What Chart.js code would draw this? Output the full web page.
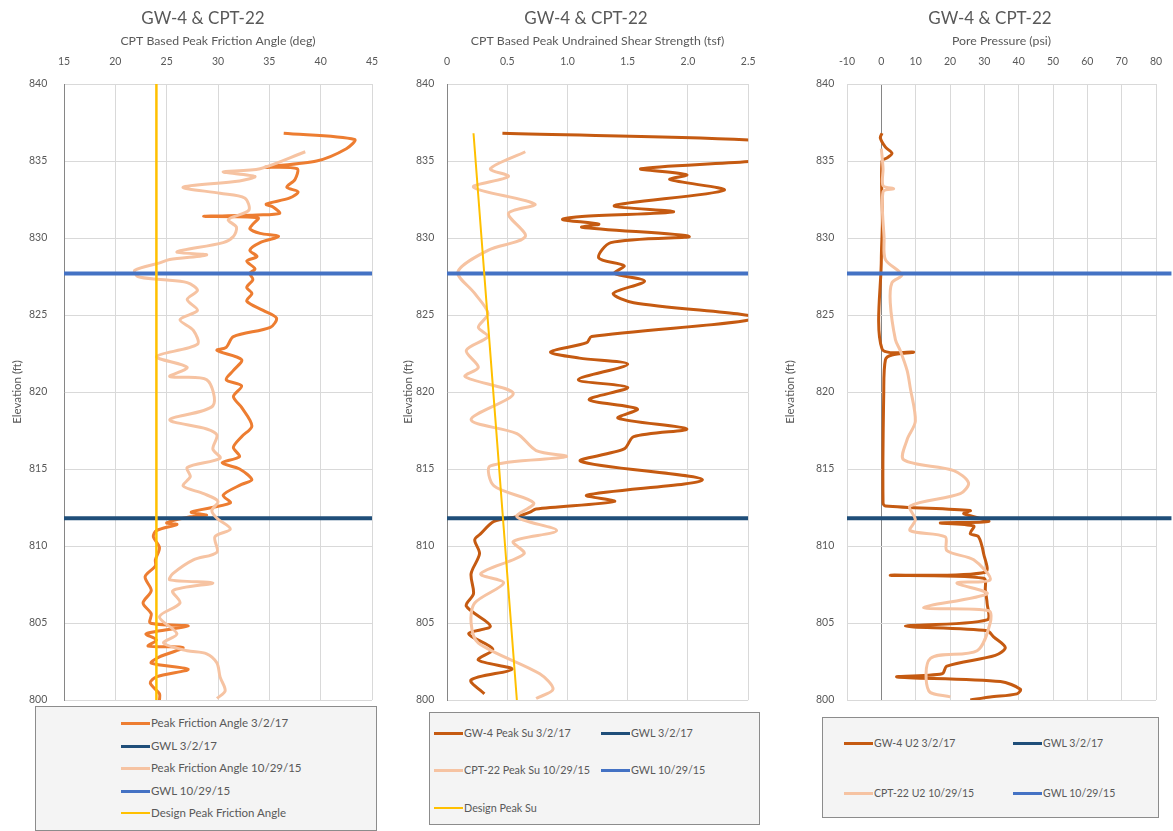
<!DOCTYPE html>
<html>
<head>
<meta charset="utf-8">
<script src="https://cdn.jsdelivr.net/npm/chart.js@4.4.0/dist/chart.umd.min.js"></script>
<style>
  html, body { margin:0; padding:0; background:#fff; overflow:hidden; width:1173px; height:831px; }
  body { position:relative; font-family:Lato, 'Open Sans', sans-serif; }
  .panel { position:absolute; top:0; }
  .legend { position:absolute; box-sizing:border-box; border:1.5px solid #8c8c8c; background:#f4f4f4; }
  .item { position:absolute; color:#595959; white-space:nowrap; line-height:14px; height:14px; }
  .item i { display:inline-block; width:29px; vertical-align:middle; margin-right:1px; position:relative; top:-1px; }
</style>
</head>
<body>
<div class="panel" style="left:6px"><canvas id="c1" width="394" height="723"></canvas></div>
<div class="panel" style="left:400px"><canvas id="c2" width="372" height="719"></canvas></div>
<div class="panel" style="left:775px"><canvas id="c3" width="430" height="719"></canvas></div>

<script>
/* ── data: elevation (ft) / value pairs ── */
const ELEV_TICKS = [800, 840, 5];

// groundwater levels (ft)
const GWL_2017 = 811.8;
const GWL_2015 = 827.7;

// panel 1 – peak friction angle (deg)
const FA17_ELEV = [836.8,836.4,835.8,835.0,834.6,834.5,833.8,833.3,833.0,832.6,832.2,832.0,831.6,831.5,831.4,831.3,830.9,830.6,830.3,830.1,829.7,829.2,828.8,828.5,828.0,827.7,827.3,826.8,826.4,825.9,825.3,824.8,824.2,823.6,822.9,822.7,822.1,821.4,820.8,820.4,819.7,819.0,817.8,817.1,816.4,815.8,815.4,815.0,814.3,814.0,813.3,812.8,812.2,812.0,811.9,811.5,811.4,811.0,810.6,809.9,809.1,808.7,808.0,807.1,806.3,805.6,805.0,804.8,804.3,803.9,803.5,803.4,802.8,802.4,802.0,801.5,801.1,800.4,800.0];
const FA17_DEG  = [36.4,43.3,42.5,39.6,34.6,37.7,37.5,36.7,37.8,37.0,34.7,35.4,36.0,33.8,28.6,33.9,33.4,33.1,34.1,35.9,34.1,33.1,33.8,32.8,33.6,33.1,33.4,32.8,33.3,32.8,34.4,35.7,35.1,31.5,30.8,29.9,32.3,31.5,30.8,32.3,31.5,32.3,33.3,32.3,31.5,32.1,30.4,32.1,33.3,32.3,30.5,31.2,27.4,28.9,27.3,25.0,26.0,24.0,23.7,24.3,23.9,23.9,22.9,23.5,22.7,23.5,23.4,27.1,23.0,24.0,23.2,26.6,24.3,23.5,27.1,24.0,23.4,24.3,24.3];
const FA15_ELEV = [835.6,834.5,834.3,834.0,833.7,833.3,832.9,832.6,831.8,831.2,830.7,830.1,829.7,829.1,828.9,828.6,828.4,827.9,827.5,827.3,827.1,826.6,826.0,825.3,824.7,824.0,823.1,822.3,821.6,821.0,820.8,819.1,818.2,817.6,817.2,816.3,815.7,815.1,814.5,813.9,813.4,812.9,812.3,811.8,811.1,810.6,809.6,809.1,808.2,807.8,807.6,807.1,806.3,805.4,804.3,803.7,803.2,803.0,802.4,801.5,800.6,800.1];
const FA15_DEG  = [38.5,34.1,30.5,33.6,32.1,26.6,30.2,32.6,33.0,31.0,31.8,31.5,30.5,26.0,28.9,25.3,24.4,21.9,22.2,24.4,27.0,28.0,27.0,28.0,26.3,27.6,28.0,24.0,27.0,25.3,28.9,29.5,25.3,28.9,29.9,29.5,30.2,27.0,27.3,26.6,28.6,30.0,29.4,29.9,31.2,29.7,29.9,27.6,25.6,25.3,29.5,25.6,26.3,24.3,26.0,24.7,27.0,28.9,29.9,30.2,30.7,29.9];
const DESIGN_FA = 24;
const DESIGN_FA_ELEV = [840, 800];

// panel 2 – peak undrained shear strength (tsf)
const SU17_ELEV = [836.8,836.2,835.4,835.0,834.5,834.1,833.8,833.1,832.1,831.7,831.4,831.2,830.9,830.7,830.1,829.7,828.7,828.2,827.7,827.2,826.4,825.8,824.8,823.6,823.2,822.6,822.2,821.8,820.8,820.3,819.5,818.9,818.3,817.6,817.1,816.3,815.5,814.3,813.3,812.9,812.4,812.2,811.9,811.6,810.8,810.4,809.5,808.2,806.9,806.1,804.8,804.3,803.3,802.6,802.0,801.3,800.4];
const SU17_TSF  = [0.46,2.9,2.9,2.55,1.61,1.99,1.85,2.30,1.39,1.88,1.12,0.96,1.26,1.12,2.01,1.36,1.26,1.47,1.39,1.64,1.38,1.55,2.56,1.20,1.16,0.86,1.10,1.50,1.09,1.50,1.18,1.58,1.42,1.99,1.55,1.47,1.11,2.12,1.16,1.39,0.74,0.69,0.58,0.39,0.28,0.23,0.27,0.20,0.22,0.16,0.36,0.18,0.38,0.26,0.54,0.20,0.31];
const SU15_ELEV = [835.6,834.5,834.0,833.3,832.2,831.6,830.1,829.2,827.8,826.4,825.1,824.2,823.6,822.7,821.6,821.0,819.9,818.2,817.3,816.2,815.8,815.2,813.9,812.8,811.9,811.0,810.3,809.5,808.2,807.6,806.3,805.0,803.7,801.7,800.7,800.1];
const SU15_TSF  = [0.65,0.36,0.51,0.22,0.73,0.51,0.65,0.34,0.09,0.23,0.34,0.26,0.34,0.16,0.26,0.15,0.55,0.20,0.58,0.74,0.99,0.36,0.39,0.72,0.58,0.91,0.55,0.64,0.28,0.47,0.23,0.20,0.26,0.77,0.88,0.74];
const DESIGN_SU_ELEV = [836.8, 800];
const DESIGN_SU_TSF  = [0.22, 0.58];

// panel 3 – pore pressure u2 (psi)
const U17_ELEV = [836.8,836.5,835.9,835.5,835.2,835.0,831.0,828.6,822.8,822.6,822.4,822.1,819.9,812.8,812.6,812.3,812.1,811.6,811.5,811.3,810.8,810.6,809.5,808.3,808.1,807.9,807.1,806.3,805.2,804.8,804.5,804.1,803.4,802.9,802.2,801.7,801.5,801.2,800.7,800.4,800.2,800.0];
const U17_PSI  = [0.2,-0.3,1.2,3.1,1.7,0.2,0.3,0.0,0.2,9.4,3.1,1.2,0.7,0.5,1.2,25.9,24.0,31.3,17.2,26.9,25.9,28.3,29.8,30.3,2.6,29.8,30.3,30.8,30.8,7.0,30.8,32.7,36.1,33.2,19.1,17.7,4.6,34.7,40.5,39.5,31.7,25.9];
const U15_ELEV = [835.8,834.5,833.4,833.2,833.0,830.0,828.6,827.6,827.1,825.8,823.4,822.7,821.4,820.3,818.1,816.9,815.6,814.9,814.1,813.4,812.6,811.7,811.0,810.6,809.7,809.1,807.8,807.6,806.9,806.0,805.8,805.0,803.2,802.7,800.6,800.2];
const U15_PSI  = [0.0,0.5,0.5,3.6,0.5,0.8,1.2,6.0,3.1,2.6,4.1,5.5,7.5,8.4,9.9,7.5,6.5,21.1,25.4,23.0,8.4,9.9,8.4,18.6,19.1,26.9,31.7,22.0,30.8,12.3,31.3,31.7,27.9,14.3,13.8,20.1];
const GWL3_PSI = [-10, 84.5];

/* ── styling helpers ── */
const FONT = 'Lato';
const TXT = '#595959';
const GRID = '#d9d9d9';
const AXIS = '#868686';
const C_DARK1 = '#ED7D31', C_DARK = '#C55A11', C_LIGHT = '#F6C3A2';
const C_GWL17 = '#1F4E79', C_GWL15 = '#4472C4', C_DESIGN = '#FFC000';

function series(label, xs, ys, color, width) {
  return { label, data: xs.map((x, i) => ({ x, y: ys[i] })), borderColor: color, backgroundColor: color,
           borderWidth: width, showLine: true, pointRadius: 0, tension: 0.3, fill: false };
}
function hLine(label, elev, xr, color) {
  const d = series(label, xr, [elev, elev], color, 4);
  d.tension = 0;
  return d;
}

function makePanel(cfg) {
  const ctx = document.getElementById(cfg.id).getContext('2d');
  // later series sit on top, like the spreadsheet
  cfg.datasets.forEach((d, i) => { d.order = -i; });
  const chart = new Chart(ctx, {
    type: 'scatter',
    data: { datasets: cfg.datasets },
    options: {
      responsive: false, animation: false,
      layout: { padding: 0 },
      plugins: {
        legend: { display: false }, tooltip: { enabled: false },
        title: { display: true, text: 'GW-4 & CPT-22', color: TXT, font: { family: FONT, size: 17, weight: 'normal' }, padding: { top: 8, bottom: 0 } }
      },
      scales: {
        x: {
          type: 'linear', position: 'top', min: cfg.x[0], max: cfg.x[1],
          ticks: { stepSize: cfg.x[2], includeBounds: false, padding: 16.5, color: TXT, font: { family: FONT, size: 10.5 } },
          grid: { drawTicks: false, color: c => (cfg.zeroLine && c.tick && c.tick.value === 0) ? AXIS : GRID },
          border: { color: GRID },
          title: { display: true, text: cfg.axisTitle, color: TXT, font: { family: FONT, size: 12.3 }, padding: { top: 5, bottom: 0 } },
          afterFit: s => { s.height = 55.6; }
        },
        y: {
          type: 'linear', min: ELEV_TICKS[0], max: ELEV_TICKS[1],
          ticks: { stepSize: ELEV_TICKS[2], padding: cfg.yTickPad, color: TXT, font: { family: FONT, size: 10.5 } },
          grid: { drawTicks: false, color: GRID },
          border: { color: cfg.zeroLine ? GRID : AXIS },
          title: { display: true, text: 'Elevation (ft)', color: TXT, font: { family: FONT, size: 11.5 }, padding: { top: cfg.yTitlePad, bottom: 0 } },
          afterFit: s => { s.width = cfg.yAxisW; }
        },
        // empty right-hand box, keeps the chart title centred on the whole panel
        yPad: {
          type: 'linear', position: 'right', display: true,
          ticks: { display: false }, grid: { display: false }, border: { display: false },
          afterFit: s => { s.width = cfg.padR; }
        }
      }
    }
  });
  buildLegend(chart, cfg.legend);
  return chart;
}

function buildLegend(chart, lg) {
  const box = document.createElement('div');
  box.className = 'legend';
  Object.assign(box.style, { left: lg.box[0] + 'px', top: lg.box[1] + 'px', width: (lg.box[2] - lg.box[0]) + 'px', height: (lg.box[3] - lg.box[1]) + 'px' });
  chart.data.datasets.slice().sort((a, b) => b.order - a.order).forEach((ds, i) => {
    const c = i % lg.cols.length, r = Math.floor(i / lg.cols.length);
    const it = document.createElement('div');
    it.className = 'item';
    it.style.fontSize = lg.size + 'px';
    it.style.left = (lg.cols[c] - lg.box[0]) + 'px';
    it.style.top = (lg.rows[r] - lg.box[1] - 7) + 'px';
    it.innerHTML = `<i style="border-top:${Math.min(ds.borderWidth, 3.5)}px solid ${ds.borderColor}"></i>${ds.label}`;
    box.appendChild(it);
  });
  document.body.appendChild(box);
}

/* ── panels ── */
const X1 = [15, 45, 5], X2 = [0, 2.5, 0.5], X3 = [-10, 80, 10];

makePanel({
  id: 'c1', yAxisW: 58, padR: 28, yTitlePad: 4, yTickPad: 16.7, x: X1,
  axisTitle: 'CPT Based Peak Friction Angle (deg)',
  datasets: [
    series('Peak Friction Angle 3/2/17', FA17_DEG, FA17_ELEV, C_DARK1, 3),
    hLine('GWL 3/2/17', GWL_2017, [X1[0], X1[1]], C_GWL17),
    series('Peak Friction Angle 10/29/15', FA15_DEG, FA15_ELEV, C_LIGHT, 3),
    hLine('GWL 10/29/15', GWL_2015, [X1[0], X1[1]], C_GWL15),
    series('Design Peak Friction Angle', [DESIGN_FA, DESIGN_FA], DESIGN_FA_ELEV, C_DESIGN, 2.5)
  ],
  legend: { box: [35, 706, 377, 831], cols: [120], rows: [722, 745, 767, 790, 812], size: 11.5 }
});

makePanel({
  id: 'c2', yAxisW: 47, padR: 17, yTitlePad: 1, yTickPad: 12.7, x: X2,
  axisTitle: 'CPT Based Peak Undrained Shear Strength (tsf)',
  datasets: [
    series('GW-4 Peak Su 3/2/17', SU17_TSF, SU17_ELEV, C_DARK, 3),
    hLine('GWL 3/2/17', GWL_2017, [X2[0], X2[1]], C_GWL17),
    series('CPT-22 Peak Su 10/29/15', SU15_TSF, SU15_ELEV, C_LIGHT, 3),
    hLine('GWL 10/29/15', GWL_2015, [X2[0], X2[1]], C_GWL15),
    series('Design Peak Su', DESIGN_SU_TSF, DESIGN_SU_ELEV, C_DESIGN, 2)
  ],
  legend: { box: [429, 712, 760, 825], cols: [433, 600], rows: [732, 769, 807], size: 10.8 }
});

const gwl3a = hLine('GWL 3/2/17', GWL_2017, GWL3_PSI, C_GWL17);
const gwl3b = hLine('GWL 10/29/15', GWL_2015, GWL3_PSI, C_GWL15);
gwl3a.clip = gwl3b.clip = { left: 0, top: 0, bottom: 0, right: 20 };

makePanel({
  id: 'c3', yAxisW: 72, padR: 49, yTitlePad: 8, yTickPad: 12.7, x: X3, zeroLine: true,
  axisTitle: 'Pore Pressure (psi)',
  datasets: [
    series('GW-4 U2 3/2/17', U17_PSI, U17_ELEV, C_DARK, 3),
    gwl3a,
    series('CPT-22 U2 10/29/15', U15_PSI, U15_ELEV, C_LIGHT, 3),
    gwl3b
  ],
  legend: { box: [822, 717, 1159, 818], cols: [843, 1012], rows: [742, 792], size: 10.5 }
});
</script>
</body>
</html>
